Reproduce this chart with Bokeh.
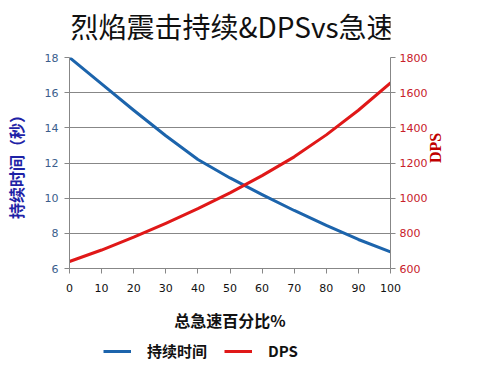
import math
from bokeh.plotting import figure
from bokeh.layouts import column
from bokeh.models import LinearAxis, Range1d, Legend, LegendItem, SingleIntervalTicker, Label
from bokeh.embed import file_html
from bokeh.resources import INLINE

haste = [0, 10, 20, 30, 40, 50, 60, 70, 80, 90, 100]
duration = [18.0, 16.5, 15.0, 13.55, 12.2, 11.15, 10.2, 9.3, 8.45, 7.65, 6.95]
dps = [640, 705, 778, 857, 940, 1030, 1128, 1235, 1360, 1500, 1655]

title_text = "烈焰震击持续&DPSvs急速"
left_label = "持续时间（秒）"
right_label = "DPS"
x_label = "总急速百分比%"
legend_labels = ["持续时间", "DPS"]

BLUE = "#1C64AC"
RED = "#E01818"
GRID = "#878787"
W = 469

def bare(fig):
    fig.axis.visible = False
    fig.grid.visible = False
    fig.outline_line_color = None
    return fig

# --- title strip ---
t = bare(figure(width=W, height=50, x_range=Range1d(0, 1), y_range=Range1d(0, 1),
                output_backend="svg", toolbar_location=None, min_border=0))
t.add_layout(Label(x=0.508, y=0.5, text=title_text, text_align="center", text_baseline="middle",
                   text_font="Noto Sans CJK SC", text_font_size="28px", text_color="#111111"))

# --- main chart ---
p = figure(width=W, height=284, x_range=(0, 100), y_range=(6, 18),
           output_backend="svg", toolbar_location=None,
           min_border_left=61, min_border_right=79, min_border_top=7, min_border_bottom=64)
p.extra_y_ranges = {"dps": Range1d(600, 1800)}
p.outline_line_color = None
p.xgrid.grid_line_color = None
p.ygrid.grid_line_color = GRID
p.ygrid.grid_line_width = 1

def style_axis(ax, label_color):
    ax.axis_line_color = GRID
    ax.major_tick_line_color = GRID
    ax.major_tick_out = 5
    ax.major_tick_in = 0
    ax.minor_tick_line_color = None
    ax.major_label_text_font = "DejaVu Sans"
    ax.major_label_text_font_size = "11px"
    ax.major_label_text_color = label_color

xa = p.xaxis[0]
xa.ticker = SingleIntervalTicker(interval=10)
style_axis(xa, "#111111")
xa.major_label_standoff = 10
xa.axis_label = x_label
xa.axis_label_text_font = "Noto Sans CJK SC"
xa.axis_label_text_font_style = "bold"
xa.axis_label_text_font_size = "16px"
xa.axis_label_text_color = "#111111"
xa.axis_label_standoff = 13

ya = p.yaxis[0]
ya.ticker = SingleIntervalTicker(interval=2)
style_axis(ya, "#3A5E8C")
ya.major_label_standoff = 6
ya.axis_label = left_label
ya.axis_label_text_font = "Noto Sans CJK SC"
ya.axis_label_text_font_style = "bold"
ya.axis_label_text_font_size = "16px"
ya.axis_label_text_color = "#1E22A6"
ya.axis_label_standoff = 14

ra = LinearAxis(y_range_name="dps", ticker=SingleIntervalTicker(interval=200))
style_axis(ra, "#C8202A")
ra.major_label_standoff = 4
ra.axis_label = right_label
ra.axis_label_orientation = math.pi / 2
ra.axis_label_text_font = "Liberation Serif"
ra.axis_label_text_font_style = "bold"
ra.axis_label_text_font_size = "16px"
ra.axis_label_text_color = "#C00000"
ra.axis_label_standoff = 5
p.add_layout(ra, "right")

p.line(haste, duration, line_color=BLUE, line_width=3, line_join="round", line_cap="round")
p.line(haste, dps, y_range_name="dps", line_color=RED, line_width=3, line_join="round", line_cap="round")

# --- legend strip (legend swatches come from off-range copies of the series) ---
lg = bare(figure(width=W, height=34, x_range=Range1d(0, 1), y_range=Range1d(0, 1),
                 output_backend="svg", toolbar_location=None, min_border=0))
l1 = lg.line(haste, duration, line_color=BLUE, line_width=3)
l2 = lg.line(haste, dps, line_color=RED, line_width=3)
legend = Legend(items=[LegendItem(label=legend_labels[0], renderers=[l1]),
                       LegendItem(label=legend_labels[1], renderers=[l2])],
                orientation="horizontal", location=(34, 7))
legend.border_line_color = None
legend.background_fill_alpha = 0
legend.padding = 0
legend.margin = 0
legend.spacing = 17
legend.glyph_width = 28
legend.glyph_height = 20
legend.label_height = 20
legend.label_standoff = 16
legend.label_text_font = "Noto Sans CJK SC"
legend.label_text_font_style = "bold"
legend.label_text_font_size = "15px"
legend.label_text_color = "#111111"
lg.add_layout(legend, "center")

open("out.html", "w").write(file_html(column(t, p, lg), INLINE))
